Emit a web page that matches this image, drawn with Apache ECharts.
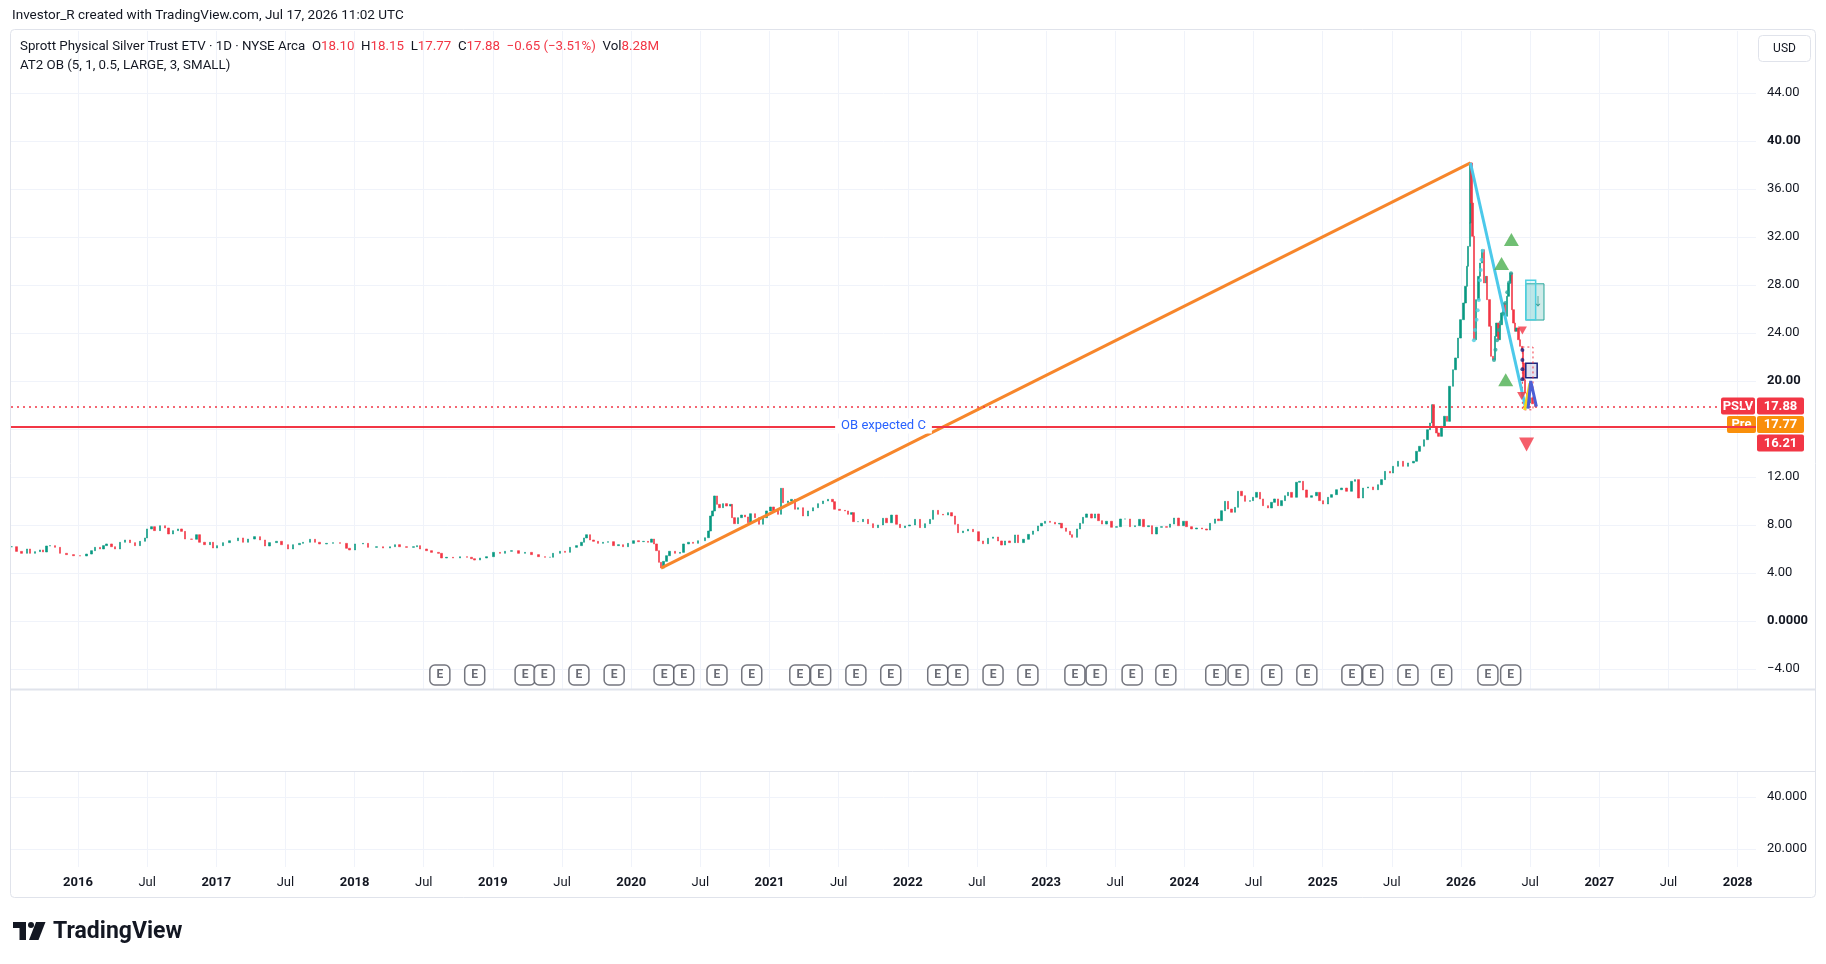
<!doctype html>
<html>
<head>
<meta charset="utf-8">
<title>Sprott Physical Silver Trust ETV - 1D</title>
<script src="https://cdn.jsdelivr.net/npm/echarts@6/dist/echarts.min.js"></script>
<style>
    html, body { margin: 0; padding: 0; background: #fff; }
    #main { width: 1826px; height: 964px; }
</style>
</head>
<body>
<div id="main"></div>
<script>
// price series, one close roughly every two weeks
var dates = [
    '2015-07-10','2015-07-23','2015-08-05','2015-08-19','2015-08-27','2015-09-09','2015-09-23','2015-10-01','2015-10-10','2015-10-19',
    '2015-11-01','2015-11-14','2015-12-02','2015-12-20','2016-01-06','2016-01-24','2016-02-06','2016-02-15','2016-02-28','2016-03-08',
    '2016-03-17','2016-03-30','2016-04-08','2016-04-21','2016-05-04','2016-05-17','2016-05-31','2016-06-13','2016-06-26','2016-07-02',
    '2016-07-14','2016-07-22','2016-08-05','2016-08-18','2016-08-27','2016-09-09','2016-09-22','2016-10-01','2016-10-10','2016-10-27',
    '2016-11-09','2016-11-18','2016-12-01','2016-12-15','2016-12-23','2017-01-03','2017-01-19','2017-02-05','2017-02-27','2017-03-13',
    '2017-03-26','2017-04-12','2017-04-26','2017-05-09','2017-05-22','2017-06-09','2017-06-22','2017-07-09','2017-07-23','2017-08-09',
    '2017-08-18','2017-09-05','2017-09-18','2017-10-01','2017-10-19','2017-11-05','2017-11-23','2017-12-11','2017-12-19','2018-01-02',
    '2018-01-23','2018-02-06','2018-02-28','2018-03-17','2018-04-04','2018-04-17','2018-04-30','2018-05-18','2018-06-05','2018-06-15',
    '2018-06-22','2018-07-10','2018-07-23','2018-08-10','2018-08-19','2018-09-01','2018-09-18','2018-10-06','2018-10-24','2018-11-06',
    '2018-11-14','2018-11-28','2018-12-15','2019-01-02','2019-01-20','2019-02-02','2019-02-19','2019-03-09','2019-03-27','2019-04-13',
    '2019-05-01','2019-05-18','2019-06-01','2019-06-09','2019-06-27','2019-07-10','2019-07-23','2019-08-10','2019-08-23','2019-08-29',
    '2019-09-05','2019-09-14','2019-09-23','2019-10-06','2019-10-19','2019-11-01','2019-11-15','2019-11-28','2019-12-11','2019-12-24',
    '2020-01-07','2020-01-20','2020-02-02','2020-02-15','2020-02-24','2020-03-01','2020-03-08','2020-03-14','2020-03-20','2020-03-26',
    '2020-04-04','2020-04-12','2020-04-26','2020-05-09','2020-05-19','2020-05-31','2020-06-13','2020-06-26','2020-07-14','2020-07-23',
    '2020-07-29','2020-08-03','2020-08-09','2020-08-15','2020-08-22','2020-08-31','2020-09-09','2020-09-20','2020-09-24','2020-10-01',
    '2020-10-10','2020-10-19','2020-10-28','2020-11-05','2020-11-12','2020-11-23','2020-12-04','2020-12-15','2020-12-24','2021-01-03',
    '2021-01-12','2021-01-24','2021-01-31','2021-02-06','2021-02-19','2021-02-28','2021-03-09','2021-03-17','2021-03-31','2021-04-13',
    '2021-04-26','2021-05-09','2021-05-22','2021-06-05','2021-06-16','2021-06-22','2021-07-05','2021-07-19','2021-07-27','2021-08-05',
    '2021-08-11','2021-08-23','2021-09-05','2021-09-18','2021-10-01','2021-10-15','2021-10-28','2021-11-06','2021-11-19','2021-12-02',
    '2021-12-11','2021-12-24','2022-01-06','2022-01-20','2022-02-02','2022-02-15','2022-02-28','2022-03-09','2022-03-22','2022-04-04',
    '2022-04-17','2022-04-26','2022-05-05','2022-05-14','2022-05-27','2022-06-09','2022-06-22','2022-07-06','2022-07-19','2022-08-01',
    '2022-08-14','2022-08-27','2022-09-05','2022-09-14','2022-09-27','2022-10-11','2022-10-19','2022-11-02','2022-11-15','2022-11-28',
    '2022-12-11','2022-12-20','2022-12-29','2023-01-11','2023-01-24','2023-02-05','2023-02-11','2023-02-22','2023-03-05','2023-03-11',
    '2023-03-23','2023-03-31','2023-04-09','2023-04-18','2023-05-01','2023-05-10','2023-05-19','2023-05-28','2023-06-10','2023-06-23',
    '2023-07-06','2023-07-17','2023-07-28','2023-08-10','2023-08-24','2023-09-04','2023-09-15','2023-09-28','2023-10-07','2023-10-20',
    '2023-11-02','2023-11-15','2023-11-24','2023-12-05','2023-12-16','2023-12-29','2024-01-07','2024-01-20','2024-02-02','2024-02-16',
    '2024-02-29','2024-03-09','2024-03-22','2024-03-31','2024-04-08','2024-04-17','2024-04-26','2024-05-05','2024-05-14','2024-05-22',
    '2024-05-31','2024-06-09','2024-06-22','2024-07-01','2024-07-10','2024-07-19','2024-07-27','2024-08-09','2024-08-18','2024-08-27',
    '2024-09-05','2024-09-14','2024-09-23','2024-10-01','2024-10-10','2024-10-23','2024-11-01','2024-11-10','2024-11-19','2024-12-02',
    '2024-12-15','2024-12-24','2025-01-02','2025-01-15','2025-01-24','2025-02-06','2025-02-19','2025-03-05','2025-03-18','2025-03-27',
    '2025-04-06','2025-04-18','2025-05-01','2025-05-14','2025-05-27','2025-06-05','2025-06-14','2025-06-27','2025-07-06','2025-07-19',
    '2025-08-01','2025-08-14','2025-08-28','2025-09-06','2025-09-14','2025-09-25','2025-10-04','2025-10-11','2025-10-17','2025-10-21',
    '2025-10-28','2025-11-02','2025-11-11','2025-11-19','2025-11-25','2025-12-02','2025-12-11','2025-12-18','2025-12-24','2025-12-31',
    '2026-01-07','2026-01-13','2026-01-17','2026-01-20','2026-01-25','2026-01-26','2026-01-29','2026-02-01','2026-02-04','2026-02-10',
    '2026-02-16','2026-02-20','2026-02-26','2026-03-03','2026-03-08','2026-03-11','2026-03-17','2026-03-21','2026-03-27','2026-04-01',
    '2026-04-05','2026-04-10','2026-04-14','2026-04-18','2026-04-23','2026-04-27','2026-05-02','2026-05-06','2026-05-12','2026-05-15',
    '2026-05-19','2026-05-24','2026-05-28','2026-06-02','2026-06-06','2026-06-11','2026-06-13','2026-06-15','2026-06-19','2026-06-24',
    '2026-07-02','2026-07-09','2026-07-16'
];
var closes = [
    6.19,5.80,5.64,6.00,5.64,5.78,5.92,5.75,6.25,6.28,
    6.14,5.64,5.53,5.44,5.42,5.58,5.86,6.14,6.00,6.28,
    6.42,6.19,6.00,6.56,6.75,6.53,6.28,6.64,6.92,7.67,
    7.86,7.53,7.94,7.75,7.25,7.53,7.67,7.47,6.83,6.81,
    7.19,6.56,6.36,6.56,6.08,6.28,6.53,6.69,6.92,6.56,
    6.83,7.03,6.75,6.25,6.53,6.64,6.36,6.00,6.36,6.47,
    6.56,6.81,6.56,6.42,6.47,6.53,6.47,6.06,5.92,6.42,
    6.47,6.14,6.19,6.08,6.19,6.36,6.19,6.14,6.19,6.28,
    6.00,5.86,5.72,5.64,5.25,5.31,5.25,5.36,5.31,5.19,
    5.08,5.25,5.36,5.72,5.64,5.81,5.86,5.64,5.72,5.53,
    5.36,5.31,5.31,5.64,5.81,5.72,6.14,6.28,6.56,6.92,
    7.19,6.75,6.64,6.47,6.56,6.61,6.28,6.36,6.19,6.47,
    6.69,6.61,6.64,6.56,6.83,6.42,5.86,4.89,4.42,4.97,
    5.44,5.81,5.64,5.72,6.42,6.56,6.47,6.69,6.94,7.50,
    8.75,9.17,10.42,9.72,9.44,9.78,9.58,9.72,8.61,8.11,
    8.61,8.83,8.67,8.19,8.94,8.61,8.06,8.61,9.17,9.50,
    9.17,8.89,11.06,9.86,10.00,10.14,9.31,9.44,8.75,9.17,
    9.44,9.78,10.00,10.14,9.94,9.31,9.22,9.17,8.89,9.03,
    8.28,8.28,8.47,8.11,7.78,8.00,8.56,8.19,8.83,8.06,
    7.78,7.92,8.00,8.47,7.78,8.11,8.47,9.22,8.89,8.83,
    9.03,8.75,8.06,7.36,7.50,7.64,7.44,6.67,6.44,6.89,
    7.00,6.67,6.33,6.67,6.53,7.17,6.53,6.81,7.22,7.50,
    7.92,8.14,8.31,8.22,8.08,8.14,7.75,7.47,7.19,6.97,
    7.67,8.14,8.64,8.92,8.58,8.92,8.36,8.08,8.31,7.81,
    7.86,8.50,8.50,7.86,7.94,8.47,7.86,7.94,7.25,7.81,
    7.86,7.81,8.08,8.58,7.94,8.31,7.86,7.67,7.75,7.67,
    7.58,8.14,8.50,8.36,9.19,9.97,9.33,9.06,9.47,10.81,
    10.44,9.97,10.03,10.31,10.72,10.17,9.61,9.42,9.89,10.17,
    9.61,10.03,10.44,10.72,10.31,11.56,11.64,10.92,10.31,10.44,
    10.72,10.03,9.75,10.31,10.53,10.94,11.08,10.81,11.64,11.78,
    10.25,11.08,11.17,10.94,11.36,11.78,12.47,12.33,12.89,13.31,
    12.89,13.17,13.31,14.14,14.56,15.11,15.94,16.50,18.03,16.22,
    15.67,15.39,16.22,17.06,16.64,19.56,20.94,21.92,23.58,25.11,
    26.50,27.89,29.56,31.22,33.17,38.17,34.83,32.06,23.44,26.78,
    28.72,29.83,30.94,28.17,28.72,26.78,24.56,22.06,21.78,23.72,
    24.83,23.44,24.69,25.67,26.50,25.39,27.06,28.17,29.00,25.94,
    24.83,24.14,24.42,23.44,22.89,22.61,21.50,20.11,19.00,18.17,
    18.60,18.10,17.88
];

// axis ticks (16.00 sits under the price tags, so it gets a grid line but no label)
var yTicks = [-4, 0, 4, 8, 12, 16, 20, 24, 28, 32, 36, 40, 44];
var yLabels = [-4, 0, 4, 8, 12, 20, 24, 28, 32, 36, 40, 44];
var paneTicks = [20, 40];
var timeTicks = [2016, 2016.5, 2017, 2017.5, 2018, 2018.5, 2019, 2019.5, 2020, 2020.5, 2021, 2021.5,
    2022, 2022.5, 2023, 2023.5, 2024, 2024.5, 2025, 2025.5, 2026, 2026.5, 2027, 2027.5, 2028];

// drawings on the chart
var orangeDates = ['2020-03-20', '2026-01-26'];
var orangeValues = [4.40, 38.17];
var cyanDates = ['2026-01-26', '2026-06-21'];
var cyanValues = [38.17, 17.70];
var yellowDates = ['2026-06-18', '2026-07-02'];
var yellowValues = [17.58, 19.80];
var blueDates = ['2026-06-27', '2026-07-04', '2026-07-19'];
var blueValues = [17.70, 20.00, 17.86];

var obLevel = 16.21;
var lastClose = 17.88;
var preClose = 17.77;

// signal shapes
var upDates = ['2026-05-14', '2026-04-18', '2026-04-29'];
var upValues = [31.8, 29.8, 20.1];
var downDates = ['2026-06-12', '2026-06-10', '2026-06-23'];
var downValues = [24.2, 18.75, 14.7];
var downSizes = [8, 8, 14];

var cyanDotDates = ['2026-02-04','2026-02-07','2026-02-11','2026-02-14','2026-02-17','2026-02-20','2026-02-22','2026-02-24','2026-02-27'];
var cyanDotValues = [23.4, 24.25, 25.1, 25.9, 26.75, 28.4, 29.25, 30.1, 30.86];
var tealDotDates = ['2026-03-29','2026-04-02','2026-04-06','2026-04-11','2026-04-16','2026-04-22','2026-04-28','2026-05-03','2026-05-08','2026-05-13'];
var tealDotValues = [21.75, 22.6, 23.4, 24.25, 24.9, 25.6, 26.5, 27.4, 28.2, 28.97];
var navyDotDates = ['2026-06-12', '2026-06-12', '2026-06-12', '2026-06-12'];
var navyDotValues = [22.58, 21.75, 20.97, 20.14];

// boxes: [start, end, top, bottom]
var tealBox = ['2026-06-21', '2026-08-08', 28.1, 25.08];
var cyanBox = ['2026-06-21', '2026-07-17', 28.4, 25.1];
var navyBox = ['2026-06-21', '2026-07-21', 21.47, 20.27];
var redBox = ['2026-06-12', '2026-07-10', 22.83, 17.6];

// earnings
var earningsDates = [
    '2018-08-14','2018-11-14','2019-03-27','2019-05-16','2019-08-16','2019-11-17','2020-03-28','2020-05-19',
    '2020-08-15','2020-11-15','2021-03-22','2021-05-16','2021-08-17','2021-11-17','2022-03-21','2022-05-13',
    '2022-08-14','2022-11-14','2023-03-18','2023-05-13','2023-08-16','2023-11-13','2024-03-24','2024-05-22',
    '2024-08-19','2024-11-20','2025-03-19','2025-05-13','2025-08-14','2025-11-11','2026-03-13','2026-05-12'
];
var earningsLevel = -4.5;

var UP = '#089981', DOWN = '#F23645', TEXT = '#131722', GRID = '#F0F3FA', BORDER = '#E0E3EB';
var FONT = 'Roboto, "Noto Sans", sans-serif';

function toYear(s) {
    var p = s.split('-'), y = +p[0];
    var t0 = Date.UTC(y, 0, 1), t1 = Date.UTC(y + 1, 0, 1);
    return y + (Date.UTC(y, +p[1] - 1, +p[2]) - t0) / (t1 - t0);
}
function pairs(ds, vs) {
    return ds.map(function (d, i) { return [toYear(d), vs[i]]; });
}
function box(b, style, label) {
    return [{ coord: [toYear(b[0]), b[2]], itemStyle: style, label: label || { show: false } },
            { coord: [toYear(b[1]), b[3]] }];
}

var candles = closes.map(function (c, i) {
    var o = i ? closes[i - 1] : c;
    return [toYear(dates[i]), o, c, Math.min(o, c), Math.max(o, c)];
});

var xMin = 2015.5156, xMax = 2028.133;

function yLabel(v) {
    var s = v === 0 ? '0.0000' : Math.abs(v).toFixed(2);
    if (v < 0) s = '\u2212' + s;
    return (v === 40 || v === 20 || v === 0) ? '{b|' + s + '}' : s;
}

var myChart = echarts.init(document.getElementById('main'));

var option = {
    animation: false,
    backgroundColor: '#ffffff',
    textStyle: { fontFamily: FONT },
    grid: [
        { left: 11, right: 70, top: 31, height: 658 },
        { left: 11, right: 70, top: 772, height: 95 }
    ],
    xAxis: [
        {
            gridIndex: 0, type: 'value', min: xMin, max: xMax,
            axisLine: { show: false },
            axisTick: { show: false, customValues: timeTicks },
            axisLabel: { show: false, customValues: timeTicks },
            splitLine: { show: true, lineStyle: { color: GRID, width: 1 } }
        },
        {
            gridIndex: 1, type: 'value', min: xMin, max: xMax,
            axisLine: { show: false },
            axisTick: { show: false, customValues: timeTicks },
            axisLabel: {
                customValues: timeTicks, margin: 9, color: TEXT, fontSize: 13, fontFamily: FONT,
                formatter: function (v) {
                    return Math.abs(v - Math.round(v)) < 1e-6 ? '{y|' + Math.round(v) + '}' : '{m|Jul}';
                },
                rich: {
                    y: { fontSize: 13, fontWeight: 'bold', color: TEXT, fontFamily: FONT },
                    m: { fontSize: 13, color: TEXT, fontFamily: FONT }
                }
            },
            splitLine: { show: true, lineStyle: { color: GRID, width: 1 } }
        }
    ],
    yAxis: [
        {
            gridIndex: 0, type: 'value', position: 'right', min: -5.667, max: 49.167,
            axisLine: { show: false },
            axisTick: { show: false, customValues: yTicks },
            axisLabel: {
                customValues: yLabels, margin: 11, color: TEXT, fontSize: 13, fontFamily: FONT,
                formatter: yLabel,
                rich: { b: { fontSize: 13, fontWeight: 'bold', color: TEXT, fontFamily: FONT } }
            },
            splitLine: { show: true, lineStyle: { color: GRID, width: 1 } }
        },
        {
            gridIndex: 1, type: 'value', position: 'right', min: 13.08, max: 49.62,
            axisLine: { show: false },
            axisTick: { show: false, customValues: paneTicks },
            axisLabel: {
                customValues: paneTicks, margin: 11, color: TEXT, fontSize: 13, fontFamily: FONT,
                formatter: function (v) { return v.toFixed(3); }
            },
            splitLine: { show: true, lineStyle: { color: GRID, width: 1 } }
        }
    ],
    series: [
        {
            name: 'PSLV', type: 'candlestick', xAxisIndex: 0, yAxisIndex: 0,
            data: candles, encode: { x: 0, y: [1, 2, 3, 4] },
            barWidth: 2,
            itemStyle: { color: UP, color0: DOWN, borderColor: UP, borderColor0: DOWN, borderWidth: 0.6 },
            markLine: {
                silent: true, symbol: 'none', animation: false,
                data: [
                    {
                        yAxis: obLevel,
                        lineStyle: { color: DOWN, width: 2, type: 'solid' },
                        label: {
                            show: true, position: 'middle', formatter: 'OB expected C',
                            color: '#2962FF', fontSize: 13, fontFamily: FONT,
                            backgroundColor: '#ffffff', padding: [1, 6], distance: -7
                        }
                    },
                    {
                        yAxis: lastClose,
                        lineStyle: { color: DOWN, width: 1.5, type: [2, 4] },
                        label: { show: false }
                    }
                ]
            },
            markArea: {
                silent: true,
                data: [
                    box(tealBox, { color: 'rgba(38,166,154,0.22)', borderColor: '#26A69A', borderWidth: 1 },
                        { show: true, position: 'insideRight', formatter: '\u2193', color: '#3a9d94', fontSize: 18, distance: 2 }),
                    box(cyanBox, { color: 'rgba(77,208,225,0.15)', borderColor: '#4DD0E1', borderWidth: 1.5 }),
                    box(navyBox, { color: 'rgba(40,53,147,0.14)', borderColor: '#1A237E', borderWidth: 1.5 }),
                    box(redBox, { color: 'rgba(0,0,0,0)', borderColor: DOWN, borderWidth: 1, borderType: [2, 3] })
                ]
            },
            z: 3
        },
        {
            type: 'line', data: pairs(orangeDates, orangeValues), showSymbol: false, symbol: 'none',
            lineStyle: { color: '#F7862B', width: 3 }, z: 4, silent: true
        },
        {
            type: 'line', data: pairs(cyanDates, cyanValues), showSymbol: false, symbol: 'none',
            lineStyle: { color: '#4CC9EA', width: 3 }, z: 4, silent: true
        },
        {
            type: 'line', data: pairs(yellowDates, yellowValues), showSymbol: false, symbol: 'none',
            lineStyle: { color: '#F5D61C', width: 3 }, z: 5, silent: true
        },
        {
            type: 'line', data: pairs(blueDates, blueValues), showSymbol: false, symbol: 'none',
            lineStyle: { color: '#4C5FD5', width: 3 }, z: 5, silent: true
        },
        {
            type: 'scatter', data: pairs(upDates, upValues), symbol: 'triangle', symbolSize: [15, 13],
            itemStyle: { color: '#4CAF50' }, z: 6, silent: true
        },
        {
            type: 'scatter',
            data: pairs(downDates, downValues).map(function (p, i) {
                return { value: p, symbolSize: [downSizes[i] + 1, downSizes[i]] };
            }),
            symbol: 'triangle', symbolRotate: 180,
            itemStyle: { color: DOWN }, z: 6, silent: true
        },
        {
            type: 'scatter', data: pairs(cyanDotDates, cyanDotValues), symbolSize: 4,
            itemStyle: { color: '#4DD0E1' }, z: 5, silent: true
        },
        {
            type: 'scatter', data: pairs(tealDotDates, tealDotValues), symbolSize: 4,
            itemStyle: { color: '#26A69A' }, z: 5, silent: true
        },
        {
            type: 'scatter', data: pairs(navyDotDates, navyDotValues), symbolSize: 4,
            itemStyle: { color: '#1A237E' }, z: 6, silent: true
        },
        {
            type: 'scatter',
            data: earningsDates.map(function (d) { return [toYear(d), earningsLevel]; }),
            symbol: 'roundRect', symbolSize: [20, 20],
            itemStyle: { color: '#ffffff', borderColor: '#50535E', borderWidth: 1.5 },
            label: { show: true, position: 'inside', formatter: 'E', color: '#434651', fontSize: 12, fontWeight: 'bold', fontFamily: FONT },
            z: 6, silent: true
        }
    ]
};

myChart.setOption(option);

// price scale tags and page furniture
var yTag = myChart.convertToPixel({ yAxisIndex: 0 }, lastClose);
var axisX = 1757;

function tag(x, y, w, fill, txt) {
    return {
        type: 'group', z: 100, children: [
            { type: 'rect', shape: { x: x, y: y, width: w, height: 17, r: 2 }, style: { fill: fill } },
            { type: 'text', x: x + w / 2, y: y + 9, style: {
                text: txt, fill: '#ffffff', font: 'bold 13px ' + FONT, align: 'center', verticalAlign: 'middle' } }
        ]
    };
}

myChart.setOption({
    graphic: [
        { type: 'text', x: 12, y: 16, z: 100, style: {
            text: 'Investor_R created with TradingView.com, Jul 17, 2026 11:02 UTC',
            fill: TEXT, font: '13.5px ' + FONT, verticalAlign: 'middle' } },
        { type: 'rect', z: 90, shape: { x: 10.5, y: 29.5, width: 1805, height: 868, r: 4 },
          style: { fill: 'none', stroke: BORDER, lineWidth: 1 } },
        { type: 'line', z: 90, shape: { x1: 10, y1: 689.5, x2: 1815, y2: 689.5 }, style: { stroke: BORDER, lineWidth: 2 } },
        { type: 'line', z: 90, shape: { x1: 10, y1: 771.5, x2: 1815, y2: 771.5 }, style: { stroke: BORDER, lineWidth: 1 } },
        { type: 'text', x: 20, y: 47, z: 100, style: {
            text: '{d|Sprott Physical Silver Trust ETV \u00b7 1D \u00b7 NYSE Arca}  {d|O}{r|18.10}  {d|H}{r|18.15}  {d|L}{r|17.77}  {d|C}{r|17.88}  {r|\u22120.65 (\u22123.51%)}  {d|Vol}{r|8.28M}',
            verticalAlign: 'middle',
            rich: {
                d: { fill: TEXT, font: '13.3px ' + FONT },
                r: { fill: DOWN, font: '13.3px ' + FONT }
            } } },
        { type: 'text', x: 20, y: 66, z: 100, style: {
            text: 'AT2 OB (5, 1, 0.5, LARGE, 3, SMALL)', fill: TEXT, font: '13.3px ' + FONT, verticalAlign: 'middle' } },
        { type: 'rect', z: 100, shape: { x: 1758.5, y: 35.5, width: 52, height: 26, r: 4 },
          style: { fill: '#ffffff', stroke: BORDER, lineWidth: 1 } },
        { type: 'text', x: 1784.5, y: 49, z: 101, style: {
            text: 'USD', fill: TEXT, font: '12px ' + FONT, align: 'center', verticalAlign: 'middle' } },
        tag(1721, yTag - 9, 34, DOWN, 'PSLV'),
        tag(axisX, yTag - 9, 47, DOWN, lastClose.toFixed(2)),
        tag(1727, yTag + 9.5, 29, '#F98F0B', 'Pre'),
        tag(axisX, yTag + 9.5, 47, '#F98F0B', preClose.toFixed(2)),
        tag(axisX, yTag + 28, 47, DOWN, obLevel.toFixed(2)),
        // TradingView logo
        { type: 'group', z: 100, children: [
            { type: 'rect', shape: { x: 13, y: 922, width: 13, height: 6 }, style: { fill: TEXT } },
            { type: 'rect', shape: { x: 19.5, y: 922, width: 6.5, height: 18 }, style: { fill: TEXT } },
            { type: 'circle', shape: { cx: 31, cy: 925, r: 3 }, style: { fill: TEXT } },
            { type: 'polygon', shape: { points: [[36, 922], [45.5, 922], [38.5, 940], [29, 940]] }, style: { fill: TEXT } }
        ] },
        { type: 'text', x: 53, y: 932, z: 100, style: {
            text: 'TradingView', fill: TEXT, font: 'bold 23px ' + FONT, verticalAlign: 'middle' } }
    ]
});
</script>
</body>
</html>
